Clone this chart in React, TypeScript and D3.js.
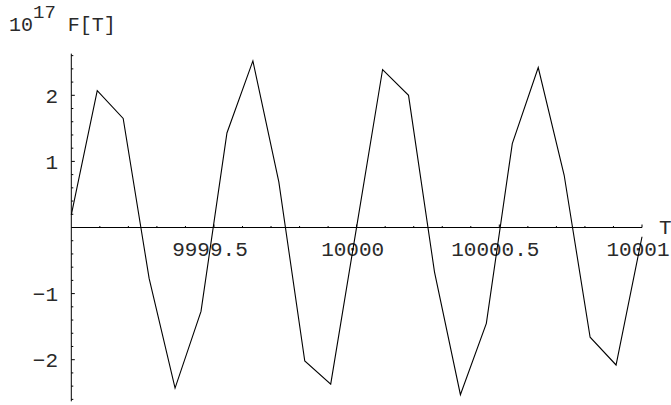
import React from "react";
import * as d3 from "d3";

// Sampled values of 10^17 F[T] on a uniform grid over [9999, 10001]
const tStart = 9999;
const tEnd = 10001;
const fValues = [
  0.19, 2.07, 1.65, -0.77, -2.43, -1.27, 1.43, 2.52, 0.69, -2.02, -2.37, 0.01,
  2.39, 2.0, -0.67, -2.53, -1.45, 1.27, 2.42, 0.79, -1.66, -2.08, -0.14,
];
const xTickValues = [9999.5, 10000, 10000.5, 10001];
const xTickLabels = ["9999.5", "10000", "10000.5", "10001"];
const yTickValues = [-2, -1, 1, 2];
const yTickLabels = ["\u22122", "\u22121", "1", "2"];

const W = 671;
const H = 405;
const FONT = "'Liberation Mono', 'Courier New', monospace";
const TEXT_FILL = "#2a2a2a";

export default function App() {
  const step = (tEnd - tStart) / (fValues.length - 1);
  const points: [number, number][] = fValues.map((v, i) => [tStart + i * step, v]);

  const x = d3.scaleLinear().domain([tStart, tEnd]).range([71.3, 642]);
  const unit = 66.1;
  const y0 = 227.5;
  const yMax = 2.63;
  const y = d3
    .scaleLinear()
    .domain([-yMax, yMax])
    .range([y0 + yMax * unit, y0 - yMax * unit]);

  const line = d3
    .line<[number, number]>()
    .x((d) => x(d[0]))
    .y((d) => y(d[1]));

  const yMinor = d3.range(-13, 14).map((k) => k * 0.2).filter((v) => Math.abs(v) > 1e-9);
  const xMinor = d3.range(1, 21).map((k) => tStart + k * 0.1);

  return (
    <svg
      width={W}
      height={H}
      style={{ position: "absolute", left: 0, top: 0, background: "#fff" }}
    >
      <rect width={W} height={H} fill="#fff" />
      {/* axes */}
      <line x1={x(tStart)} x2={x(tEnd)} y1={y(0)} y2={y(0)} stroke="#000" strokeWidth={1} />
      <line x1={x(tStart)} x2={x(tStart)} y1={y(yMax)} y2={y(-yMax)} stroke="#000" strokeWidth={1} />

      {/* y ticks */}
      {yMinor.map((v, i) => {
        const major = yTickValues.some((m) => Math.abs(m - v) < 1e-9);
        return (
          <line
            key={"ym" + i}
            x1={x(tStart)}
            x2={x(tStart) + (major ? 3.5 : 2)}
            y1={y(v)}
            y2={y(v)}
            stroke="#000"
            strokeWidth={1}
          />
        );
      })}
      {yTickValues.map((v, i) => (
        <text
          key={"yl" + i}
          x={58}
          y={y(v)}
          dy="0.36em"
          textAnchor="end"
          fontFamily={FONT}
          fontSize={21}
          fill={TEXT_FILL}
        >
          {yTickLabels[i]}
        </text>
      ))}

      {/* x ticks */}
      {xMinor.map((v, i) => {
        const major = xTickValues.some((m) => Math.abs(m - v) < 1e-9);
        return (
          <line
            key={"xm" + i}
            x1={x(v)}
            x2={x(v)}
            y1={y(0)}
            y2={y(0) - (major ? 3 : 1.5)}
            stroke="#000"
            strokeWidth={1}
          />
        );
      })}
      {xTickValues.map((v, i) => (
        <text
          key={"xl" + i}
          x={x(v) - 4}
          y={256}
          textAnchor="middle"
          fontFamily={FONT}
          fontSize={21}
          fill={TEXT_FILL}
        >
          {xTickLabels[i]}
        </text>
      ))}

      {/* axis labels */}
      <text x={659} y={234} fontFamily={FONT} fontSize={21} fill={TEXT_FILL}>
        T
      </text>
      <text x={9} y={31} fontFamily={FONT} fontSize={20} fill={TEXT_FILL}>
        10
        <tspan fontSize={19} dy={-13}>
          17
        </tspan>
        <tspan dy={13}> F[T]</tspan>
      </text>

      {/* curve */}
      <path d={line(points) ?? ""} fill="none" stroke="#000" strokeWidth={1.1} />
    </svg>
  );
}
